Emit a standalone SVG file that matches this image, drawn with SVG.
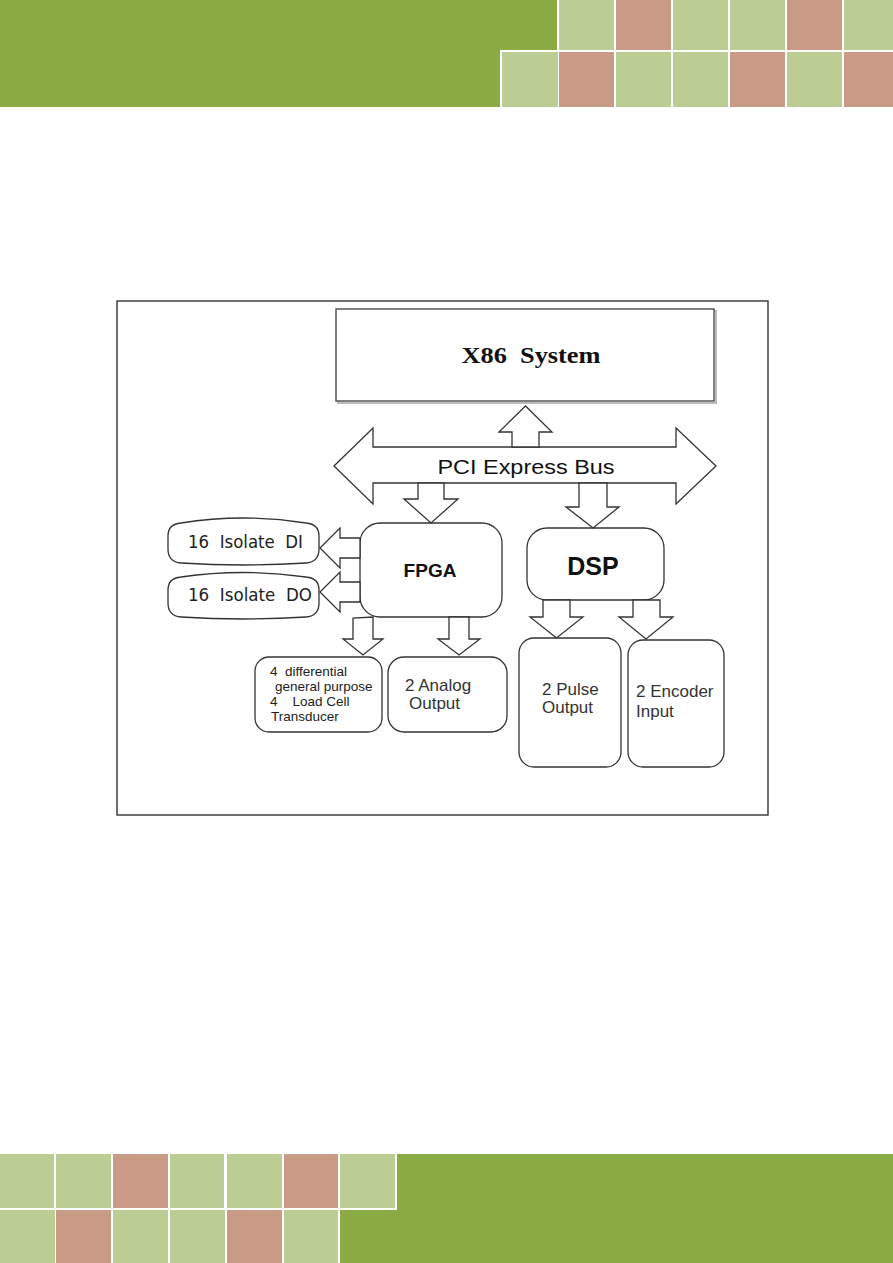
<svg xmlns="http://www.w3.org/2000/svg" width="893" height="1263" viewBox="0 0 893 1263">
<style>
.lg{fill:#bccd93}
.pk{fill:#c99a85}
.gr{fill:#8aab44}
.box{fill:#fff;stroke:#333;stroke-width:1.3}
.arr{fill:#fff;stroke:#333;stroke-width:1.3;stroke-linejoin:miter}
.sans{font-family:"Liberation Sans",Arial,sans-serif}
.lbl{font-family:"Liberation Sans",Arial,sans-serif;font-size:17px;fill:#333}
.tah{font-family:"DejaVu Sans","Liberation Sans",sans-serif;fill:#222;white-space:pre}
.small{font-family:"Liberation Sans",Arial,sans-serif;font-size:13.5px;fill:#222;white-space:pre}
</style>
<rect width="893" height="1263" fill="#fff"/>
<g id="header">
<path class="gr" d="M0,0 H557 V50 H500 V107 H0 Z"/>
<rect class="lg" x="559" y="0" width="55" height="50"/>
<rect class="pk" x="616" y="0" width="55" height="50"/>
<rect class="lg" x="673" y="0" width="55" height="50"/>
<rect class="lg" x="730" y="0" width="55" height="50"/>
<rect class="pk" x="787" y="0" width="55" height="50"/>
<rect class="lg" x="844" y="0" width="49" height="50"/>
<rect class="lg" x="502" y="52" width="56" height="55"/>
<rect class="pk" x="559" y="52" width="55" height="55"/>
<rect class="lg" x="616" y="52" width="55" height="55"/>
<rect class="lg" x="673" y="52" width="55" height="55"/>
<rect class="pk" x="730" y="52" width="55" height="55"/>
<rect class="lg" x="787" y="52" width="55" height="55"/>
<rect class="pk" x="844" y="52" width="49" height="55"/>
</g>
<g id="footer">
<path class="gr" d="M397,1154 H893 V1263 H340 V1210 H397 Z"/>
<rect class="lg" x="0" y="1154" width="54" height="54"/>
<rect class="lg" x="56" y="1154" width="55" height="54"/>
<rect class="pk" x="113" y="1154" width="55" height="54"/>
<rect class="lg" x="170" y="1154" width="54" height="54"/>
<rect class="lg" x="227" y="1154" width="55" height="54"/>
<rect class="pk" x="284" y="1154" width="54" height="54"/>
<rect class="lg" x="340" y="1154" width="55" height="54"/>
<rect class="lg" x="0" y="1210" width="55" height="53"/>
<rect class="pk" x="56" y="1210" width="55" height="53"/>
<rect class="lg" x="113" y="1210" width="55" height="53"/>
<rect class="lg" x="170" y="1210" width="55" height="53"/>
<rect class="pk" x="227" y="1210" width="55" height="53"/>
<rect class="lg" x="284" y="1210" width="54" height="53"/>
</g>
<rect id="frame" x="117" y="301" width="651" height="514" fill="none" stroke="#333" stroke-width="1.4"/>
<g id="x86">
<rect x="338" y="311" width="378" height="92" fill="none" stroke="#bbb" stroke-width="2"/>
<rect x="336" y="309" width="378" height="92" fill="#fff" stroke="#555" stroke-width="1.5"/>
<text x="531" y="363" text-anchor="middle" font-family="'Liberation Serif','Times New Roman',serif" font-weight="bold" font-size="23" fill="#111" style="white-space:pre" textLength="139" lengthAdjust="spacingAndGlyphs">X86  System</text>
</g>
<g id="pcie-bus">
<polygon class="arr" points="334,466 373,428 373,447 676,447 676,428 716,466 676,504 676,483 373,483 373,504"/>
<text x="526" y="474" text-anchor="middle" class="sans" font-size="20" fill="#111" textLength="177" lengthAdjust="spacingAndGlyphs">PCI Express Bus</text>
</g>
<g id="fpga">
<rect class="box" x="360" y="523" width="142" height="94" rx="20"/>
<text x="430" y="577" text-anchor="middle" class="sans" font-weight="bold" font-size="19" fill="#111">FPGA</text>
</g>
<g id="dsp">
<rect class="box" x="527" y="528" width="137" height="72" rx="20"/>
<text x="593" y="575" text-anchor="middle" class="sans" font-weight="bold" font-size="25" fill="#111">DSP</text>
</g>
<g id="di">
<path class="box" d="M168,536 Q168,524 181,523 Q243,513 306,523 Q319,524 319,536 L319,549 Q319,562 306,563 Q243,567 181,563 Q168,562 168,549 Z"/>
<text x="188" y="548" class="tah" font-size="17" textLength="115" lengthAdjust="spacingAndGlyphs">16  Isolate  DI</text>
</g>
<g id="do">
<path class="box" d="M168,590 Q168,578 181,577 Q243,568 306,577 Q319,578 319,590 L319,603 Q319,616 306,617 Q243,621 181,617 Q168,616 168,603 Z"/>
<text x="188" y="601" class="tah" font-size="17" textLength="124" lengthAdjust="spacingAndGlyphs">16  Isolate  DO</text>
</g>
<g id="load-cell">
<rect class="box" x="255" y="657" width="127" height="75" rx="14"/>
<text x="270" y="676" class="small">4  differential</text>
<text x="275" y="691" class="small">general purpose</text>
<text x="270" y="706" class="small">4    Load Cell</text>
<text x="271" y="721" class="small">Transducer</text>
</g>
<g id="analog-output">
<rect class="box" x="388" y="657" width="119" height="75" rx="16"/>
<text x="405" y="691" class="lbl" font-size="18">2 Analog</text>
<text x="409" y="709" class="lbl" font-size="18">Output</text>
</g>
<g id="pulse-output">
<rect class="box" x="519" y="638" width="102" height="129" rx="15"/>
<text x="542" y="695" class="lbl">2 Pulse</text>
<text x="542" y="713" class="lbl">Output</text>
</g>
<g id="encoder-input">
<rect class="box" x="628" y="640" width="96" height="127" rx="15"/>
<text x="636" y="697" class="lbl">2 Encoder</text>
<text x="636" y="717" class="lbl">Input</text>
</g>
<g id="connectors">
<polygon class="arr" points="512,447 512,432 499,432 525.5,406 552,432 539,432 539,447"/>
<polygon class="arr" points="418,483 418,499 404,499 431,523 458,499 444,499 444,483"/>
<polygon class="arr" points="579,483 579,507 566,507 593,528 619,507 607,507 607,483"/>
<polygon class="arr" points="360,538 340,538 340,528 320,548 340,568 340,558 360,558"/>
<polygon class="arr" points="360,582 340,582 340,572 320,592 340,612 340,602 360,602"/>
<polygon class="arr" points="353,618 353,639 343,639 363,655 383,639 373,639 373,617"/>
<polygon class="arr" points="449,617 449,639 438,639 459,655 480,639 469,639 469,617"/>
<polygon class="arr" points="543,600 543,617 530,617 556.5,638 583,617 570,617 570,600"/>
<polygon class="arr" points="633,600 633,617 619,617 646,639 673,617 660,617 660,600"/>
</g>
</svg>
